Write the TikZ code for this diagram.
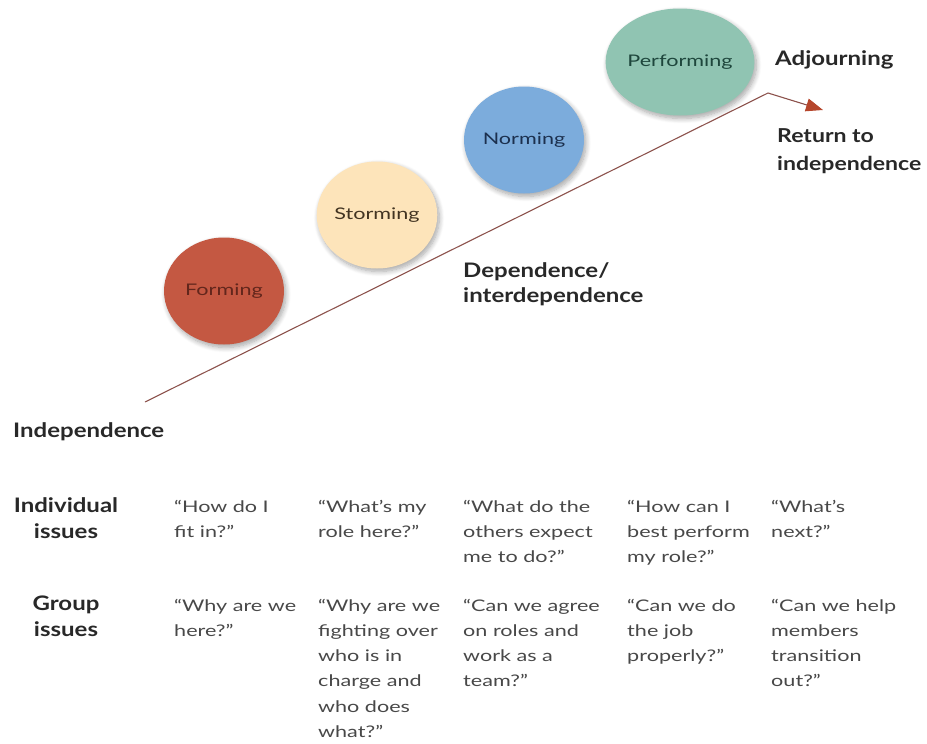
\documentclass[tikz,border=0pt]{standalone}
\usepackage{fontspec}
\setmainfont{Lato}[FakeStretch=1.35]
\newfontfamily\headfont{Lato}[FakeStretch=1.2]
\usetikzlibrary{shapes.geometric,arrows.meta,shadows.blur}

\definecolor{formfill}{RGB}{196,88,66}
\definecolor{stormfill}{RGB}{253,228,186}
\definecolor{normfill}{RGB}{124,172,220}
\definecolor{perffill}{RGB}{144,196,178}
\definecolor{formtext}{RGB}{98,38,28}
\definecolor{stormtext}{RGB}{66,52,34}
\definecolor{normtext}{RGB}{28,48,78}
\definecolor{perftext}{RGB}{30,70,60}
\definecolor{pathline}{RGB}{140,82,76}
\definecolor{arrowred}{RGB}{182,70,44}
\definecolor{headgray}{RGB}{40,40,40}
\definecolor{bodygray}{RGB}{72,72,72}

% multi-line nodes are anchored at the baseline of their last line
\tikzset{
  stage/.style={ellipse, minimum width=120pt, minimum height=107pt, inner sep=0pt,
    blur shadow={shadow xshift=2pt, shadow yshift=-3pt, shadow blur radius=5pt,
      shadow blur steps=8, shadow opacity=35},
    font=\fontsize{16}{18}\selectfont},
  head/.style={font=\headfont\bfseries\fontsize{20}{26}\selectfont, text=headgray,
    inner sep=0pt, align=left, anchor=base west},
  rowhead/.style={head, align=center, anchor=base},
  question/.style={font=\fontsize{16}{25.3}\selectfont, text=bodygray,
    inner sep=0pt, align=left, anchor=base west},
  trend/.style={draw=pathline, line width=1.1pt},
}

\begin{document}
\begin{tikzpicture}[x=1pt,y=-1pt]
\useasboundingbox (0,0) rectangle (927,744);

% the four stage discs
\node[stage, fill=formfill, text=formtext]   (forming)    at (224,291) {Forming};
\node[stage, fill=stormfill, text=stormtext] (storming)   at (377,215) {Storming};
\node[stage, fill=normfill, text=normtext]   (norming)    at (524,140) {Norming};
\node[stage, fill=perffill, text=perftext]   (performing) at (680,62)  {Performing};

% rising line that bends down into the arrow
\coordinate (start) at (145,402);
\coordinate (peak)  at (768,93);
\coordinate (tip)   at (823,110);
\draw[trend, -{Triangle[length=17pt,width=13pt,color=arrowred]}]
  (start) -- (peak) -- (tip);

% axis labels
\node[head] (adjourning) at (775,65) {Adjourning};
\node[head, font=\headfont\bfseries\fontsize{19.2}{28}\selectfont] (return) at (777,170) {Return to\\independence};
\node[head, font=\headfont\bfseries\fontsize{20}{25}\selectfont] (dependence) at (463,302) {Dependence/\\interdependence};
\node[head] (independence) at (13,437) {Independence};

% row headings
\node[rowhead] (indiv) at (66,538) {Individual\\issues};
\node[rowhead] (group) at (66,636) {Group\\issues};

% individual issues (first baseline 512)
\node[question] (i1) at (174,537.3) {“How do I\\fit in?”};
\node[question] (i2) at (318,537.3) {“What’s my\\role here?”};
\node[question] (i3) at (463,562.6) {“What do the\\others expect\\me to do?”};
\node[question] (i4) at (627,562.6) {“How can I\\best perform\\my role?”};
\node[question] (i5) at (771,537.3) {“What’s\\next?”};

% group issues (first baseline 611)
\node[question] (g1) at (174,636.3) {“Why are we\\here?”};
\node[question] (g2) at (318,737.5) {“Why are we\\fighting over\\who is in\\charge and\\who does\\what?”};
\node[question] (g3) at (463,686.9) {“Can we agree\\on roles and\\work as a\\team?”};
\node[question] (g4) at (627,661.6) {“Can we do\\the job\\properly?”};
\node[question] (g5) at (771,686.9) {“Can we help\\members\\transition\\out?”};
\end{tikzpicture}
\end{document}
